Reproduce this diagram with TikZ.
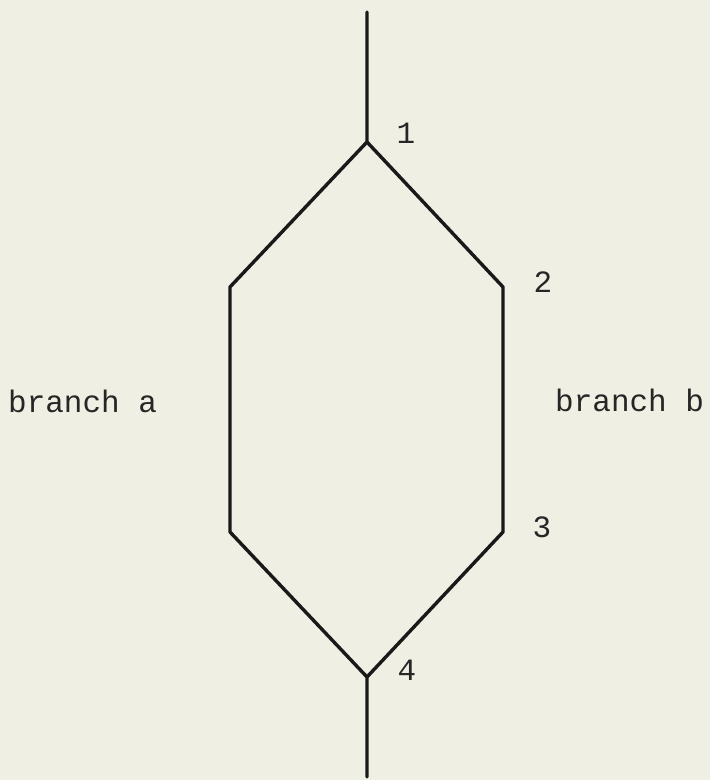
\documentclass[tikz,border=0pt]{standalone}
\usepackage{fontspec}
\setmonofont{Liberation Mono}
\begin{document}
\begin{tikzpicture}[x=1pt,y=1pt,
  wire/.style={line width=3.4pt,draw=black!90,line cap=round,line join=round},
  lbl/.style={font=\ttfamily\fontsize{31}{31}\selectfont,text=black!85,inner sep=0pt}]
\fill[fill={rgb,255:red,240;green,239;blue,227}] (0,0) rectangle (710,780);
\useasboundingbox (0,0) rectangle (710,780);
% junction points (y measured upward)
\coordinate (top) at (367,768);
\coordinate (n1) at (367,638);
\coordinate (al) at (230,493);
\coordinate (n2) at (503,493);
\coordinate (bl) at (230,248);
\coordinate (n3) at (503,248);
\coordinate (n4) at (367,103);
\coordinate (bot) at (367,3);
\draw[wire] (top) -- (n1) -- (al) -- (bl) -- (n4) -- (bot);
\draw[wire] (n1) -- (n2) -- (n3) -- (n4);
% labels
\node[lbl] (l1) at (406,647) {1};
\node[lbl] (l2) at (543,498) {2};
\node[lbl] (l3) at (542,253) {3};
\node[lbl] (l4) at (407,110) {4};
\node[lbl,anchor=base west] (ba) at (8,367) {branch a};
\node[lbl,anchor=base west] (bb) at (555,368) {branch b};
\end{tikzpicture}
\end{document}
